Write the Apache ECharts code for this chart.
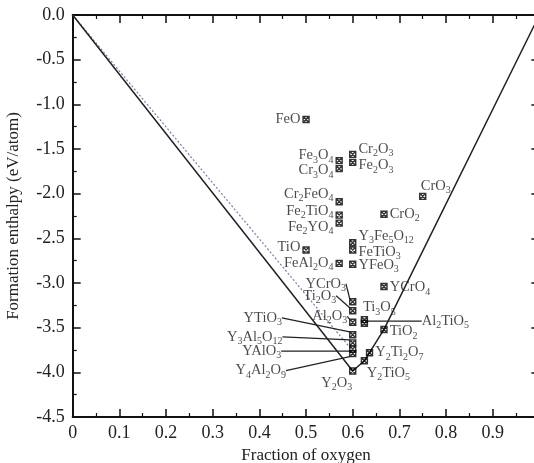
<!DOCTYPE html>
<html><head><meta charset="utf-8">
<script src="https://cdn.jsdelivr.net/npm/echarts@6/dist/echarts.min.js"></script>
<style>html,body{margin:0;padding:0;background:#fff}#c{width:534px;height:463px}</style>
</head><body><div id="c"></div>
<script>
// ---- data ----
const compounds = ['FeO','Fe3O4','Cr3O4','Cr2O3','Fe2O3','CrO3','Cr2FeO4','Fe2TiO4','Fe2YO4','CrO2',
  'Y3Fe5O12','TiO','FeTiO3','FeAl2O4','YFeO3','YCrO3','YCrO4','Ti2O3','Ti3O5','Al2O3','Al2TiO5','TiO2',
  'YTiO3','Y3Al5O12','YAlO3','Y4Al2O9','Y2Ti2O7','Y2TiO5','Y2O3'];
const oxygenFraction = [0.5,0.571,0.571,0.6,0.6,0.75,0.571,0.571,0.571,0.667,
  0.6,0.5,0.6,0.571,0.6,0.6,0.667,0.6,0.625,0.6,0.625,0.667,
  0.6,0.6,0.6,0.6,0.636,0.625,0.6];
const formationEnthalpy = [-1.17,-1.63,-1.72,-1.56,-1.65,-2.03,-2.09,-2.24,-2.33,-2.23,
  -2.55,-2.63,-2.63,-2.78,-2.79,-3.21,-3.04,-3.31,-3.41,-3.44,-3.45,-3.52,
  -3.58,-3.67,-3.74,-3.79,-3.78,-3.87,-3.985];
const hullFraction = [0, 0.6, 0.625, 0.636, 0.667, 1];
const hullEnthalpy = [0, -3.985, -3.87, -3.78, -3.52, 0];
const dottedFraction = [0, 0.6];
const dottedEnthalpy = [0, -3.76];
const xTickLabels = ['0','0.1','0.2','0.3','0.4','0.5','0.6','0.7','0.8','0.9'];
const yTickLabels = ['0.0','-0.5','-1.0','-1.5','-2.0','-2.5','-3.0','-3.5','-4.0','-4.5'];

// ---- label layout (style only) ----
const place = {
  'FeO':['left',0],'Fe3O4':['left',-5],'Cr3O4':['left',2],'Cr2O3':['right',-5],'Fe2O3':['right',3],
  'CrO3':['lead',13,-10,false],'Cr2FeO4':['left',-8],'Fe2TiO4':['left',-4],'Fe2YO4':['left',4],
  'CrO2':['right',0],'Y3Fe5O12':['right',-7],'TiO':['left',-3],'FeTiO3':['right',2],'FeAl2O4':['left',0],
  'YFeO3':['right',1],'YCrO3':['lead',-27,-18,true],'YCrO4':['right',1],'Ti2O3':['lead',-33,-15,true],
  'Ti3O5':['lead',15,-12,false],'Al2O3':['lead',-23,-6,true],'Al2TiO5':['lead',81,-2,true],
  'TiO2':['right',2],'YTiO3':['lead',-90,-17,true],'Y3Al5O12':['lead',-98,-6,true],
  'YAlO3':['lead',-91,2,true],'Y4Al2O9':['lead',-92,17,true],'Y2Ti2O7':['right',0],
  'Y2TiO5':['lead',24,12,false],'Y2O3':['lead',-16,12,false]
};
const rich = s => s.replace(/(\d+)/g, '{s|$1}');
const FONT = 'Liberation Serif, Times New Roman, serif';

const pts = compounds.map((n, i) => {
  const p = place[n];
  const d = {name: n, value: [oxygenFraction[i], formationEnthalpy[i]]};
  if (p[0] === 'lead') {
    d.label = {position: 'inside'};
    d.labelLine = {show: !!p[3], lineStyle: {color: '#222', width: 1.2}};
  } else {
    d.label = {position: p[0], distance: 2};
  }
  return d;
});

const chart = echarts.init(document.getElementById('c'), null, {renderer: 'canvas'});
const axisCommon = {
  type: 'value',
  axisLine: {show: true, onZero: false, lineStyle: {color: '#111', width: 2}},
  axisTick: {show: true, inside: true, length: 8, lineStyle: {color: '#111', width: 1.5}},
  minorTick: {show: true, splitNumber: 2, length: 4, lineStyle: {color: '#111', width: 1.2}},
  splitLine: {show: false}
};
chart.setOption({
  backgroundColor: '#fff',
  animation: false,
  grid: {left: 72.7, top: 15, width: 466.7, height: 402, outerBoundsMode: 'none', containLabel: false},
  xAxis: [
    Object.assign({}, axisCommon, {min: 0, max: 1, interval: 0.1, position: 'bottom',
      name: 'Fraction of oxygen', nameLocation: 'middle', nameGap: 24,
      nameTextStyle: {fontFamily: FONT, fontSize: 17, color: '#222'},
      axisLabel: {margin: 7, fontFamily: FONT, fontSize: 18, color: '#222',
        formatter: v => xTickLabels[Math.round(v * 10)] || ''}}),
    Object.assign({}, axisCommon, {min: 0, max: 1, interval: 0.1, position: 'top', axisLabel: {show: false}})
  ],
  yAxis: [
    Object.assign({}, axisCommon, {min: -4.5, max: 0, interval: 0.5, position: 'left',
      name: 'Formation enthalpy (eV/atom)', nameLocation: 'middle', nameGap: 51,
      nameTextStyle: {fontFamily: FONT, fontSize: 17, color: '#222'},
      axisLabel: {margin: 8, fontFamily: FONT, fontSize: 18, color: '#222',
        formatter: v => yTickLabels[Math.round(-v * 2)] || ''}}),
    Object.assign({}, axisCommon, {min: -4.5, max: 0, interval: 0.5, position: 'right', axisLabel: {show: false}})
  ],
  series: [
    {type: 'line', data: hullFraction.map((x, i) => [x, hullEnthalpy[i]]), symbol: 'none',
      lineStyle: {color: '#222', width: 1.5}, z: 2},
    {type: 'line', data: dottedFraction.map((x, i) => [x, dottedEnthalpy[i]]), symbol: 'none',
      lineStyle: {color: '#7080b0', width: 1.2, type: [2, 2]}, z: 1},
    {type: 'scatter', data: pts, z: 5,
      symbol: 'path://M0,0L10,0L10,10L0,10Z M0,0L10,10 M10,0L0,10', symbolSize: 6,
      itemStyle: {color: 'rgba(255,255,255,0)', borderColor: '#000', borderWidth: 1.4},
      label: {show: true, formatter: p => rich(p.name), fontFamily: FONT, fontSize: 14.5,
        color: '#1a1a1a', lineHeight: 19,
        rich: {s: {fontFamily: FONT, fontSize: 10, color: '#1a1a1a', verticalAlign: 'bottom'}}},
      labelLayout: p => {
        const pl = place[compounds[p.dataIndex]];
        return pl[0] === 'lead' ? {dx: pl[1], dy: pl[2]} : {dy: pl[1]};
      },
      emphasis: {disabled: true}}
  ]
});
</script></body></html>
